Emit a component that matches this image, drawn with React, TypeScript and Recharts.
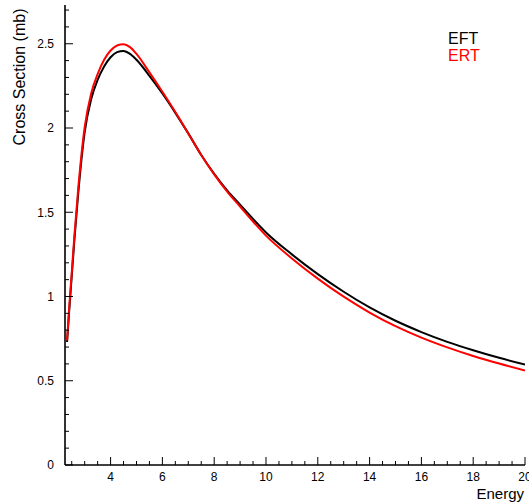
import React from 'react';
import { LineChart, Line, XAxis, YAxis, Legend, Label } from 'recharts';

const energy = [2.32, 2.4, 2.5, 2.6, 2.75, 3.0, 3.25, 3.5, 3.75, 4.0, 4.25, 4.5, 4.75, 5.0, 5.5, 6.0, 6.5, 7, 7.5, 8, 8.5, 9, 9.5, 10, 11, 12, 13, 14, 15, 16, 17, 18, 19, 20];
const eft = [0.73, 0.91, 1.12, 1.33, 1.61, 1.975, 2.17, 2.285, 2.365, 2.42, 2.45, 2.457, 2.44, 2.405, 2.31, 2.205, 2.09, 1.968, 1.84, 1.728, 1.63, 1.545, 1.46, 1.38, 1.25, 1.133, 1.028, 0.935, 0.856, 0.789, 0.731, 0.681, 0.636, 0.596];
const ert = [0.74, 0.93, 1.14, 1.355, 1.64, 2.005, 2.205, 2.32, 2.405, 2.46, 2.49, 2.497, 2.48, 2.44, 2.33, 2.215, 2.095, 1.968, 1.84, 1.725, 1.623, 1.534, 1.445, 1.361, 1.226, 1.106, 0.999, 0.905, 0.824, 0.756, 0.698, 0.647, 0.602, 0.561];

const xTicks = [2.5, 3, 3.5, 4, 4.5, 5, 5.5, 6, 6.5, 7, 7.5, 8, 8.5, 9, 9.5, 10, 10.5, 11, 11.5, 12, 12.5, 13, 13.5, 14, 14.5, 15, 15.5, 16, 16.5, 17, 17.5, 18, 18.5, 19, 19.5, 20];
const xLabels = [4, 6, 8, 10, 12, 14, 16, 18, 20];
const yTicks = [0, 0.1, 0.2, 0.3, 0.4, 0.5, 0.6, 0.7, 0.8, 0.9, 1, 1.1, 1.2, 1.3, 1.4, 1.5, 1.6, 1.7, 1.8, 1.9, 2, 2.1, 2.2, 2.3, 2.4, 2.5, 2.6, 2.7];
const yLabels = [0, 0.5, 1, 1.5, 2, 2.5];

const seriesNames = ['EFT', 'ERT'];
const seriesColors = ['#000000', '#ff0000'];

const data = energy.map((e, i) => ({ energy: e, EFT: eft[i], ERT: ert[i] }));

const FONT = '"Liberation Sans", Arial, Helvetica, sans-serif';

const XTick = (props: any) => {
  const { x, y, payload } = props;
  const v = payload.value;
  const major = xLabels.includes(v);
  return (
    <g>
      <line x1={x} x2={x} y1={y} y2={y - (major ? 8 : 4)} stroke="#000" strokeWidth={1} />
      {major && (
        <text x={x} y={y + 15.5} textAnchor="middle" fontSize={12} fill="#000" fontFamily={FONT}>
          {v}
        </text>
      )}
    </g>
  );
};

const YTick = (props: any) => {
  const { x, y, payload } = props;
  const v = payload.value;
  const major = yLabels.includes(v);
  return (
    <g>
      <line x1={x} x2={x + (major ? 8 : 4)} y1={y} y2={y} stroke="#000" strokeWidth={1} />
      {major && (
        <text x={x - 11} y={y} dy="0.36em" textAnchor="end" fontSize={12} fill="#000" fontFamily={FONT}>
          {v}
        </text>
      )}
    </g>
  );
};

const LegendContent = () => (
  <div style={{ fontFamily: FONT, fontSize: 16, lineHeight: '17px' }}>
    {seriesNames.map((n, i) => (
      <div key={n} style={{ color: seriesColors[i] }}>{n}</div>
    ))}
  </div>
);

export default function App() {
  return (
    <div style={{ position: 'absolute', left: 0, top: 0, background: '#fff' }}>
      <LineChart width={529} height={503} data={data} margin={{ top: 5, right: 4, bottom: 0, left: 0 }}>
        <XAxis
          dataKey="energy"
          type="number"
          domain={[2.24, 20]}
          ticks={xTicks}
          interval={0}
          allowDataOverflow
          height={38}
          tickSize={0}
          tickMargin={0}
          tickLine={false}
          tick={<XTick />}
          axisLine={{ stroke: '#000', strokeWidth: 1.6 }}
        >
          <Label
            content={() => (
              <text x={524} y={499} textAnchor="end" fontSize={15} fill="#000" fontFamily={FONT}>
                Energy
              </text>
            )}
          />
        </XAxis>
        <XAxis
          xAxisId="top"
          orientation="top"
          dataKey="energy"
          type="number"
          domain={[2.24, 20]}
          height={0}
          tick={false}
          tickLine={false}
          axisLine={{ stroke: '#000', strokeWidth: 1.6 }}
        />
        <YAxis
          type="number"
          domain={[0, 2.73]}
          ticks={yTicks}
          interval={0}
          allowDataOverflow
          width={65}
          tickSize={0}
          tickMargin={0}
          tickLine={false}
          tick={<YTick />}
          axisLine={{ stroke: '#000', strokeWidth: 1.6 }}
        >
          <Label
            content={() => (
              <text
                x={25}
                y={77}
                transform="rotate(-90, 25, 77)"
                textAnchor="middle"
                fontSize={16}
                fill="#000"
                fontFamily={FONT}
              >
                Cross Section (mb)
              </text>
            )}
          />
        </YAxis>
        <YAxis
          yAxisId="right"
          orientation="right"
          type="number"
          domain={[0, 2.73]}
          width={0}
          tick={false}
          tickLine={false}
          axisLine={{ stroke: '#000', strokeWidth: 1.6 }}
        />
        <Legend
          layout="horizontal"
          verticalAlign="middle"
          align="center"
          content={<LegendContent />}
          wrapperStyle={{ position: 'absolute', left: 448, top: 30, width: 'auto', height: 'auto' }}
        />
        <Line type="monotone" dataKey="EFT" stroke={seriesColors[0]} strokeWidth={2} dot={false} isAnimationActive={false} />
        <Line type="monotone" dataKey="ERT" stroke={seriesColors[1]} strokeWidth={2} dot={false} isAnimationActive={false} />
      </LineChart>
    </div>
  );
}
